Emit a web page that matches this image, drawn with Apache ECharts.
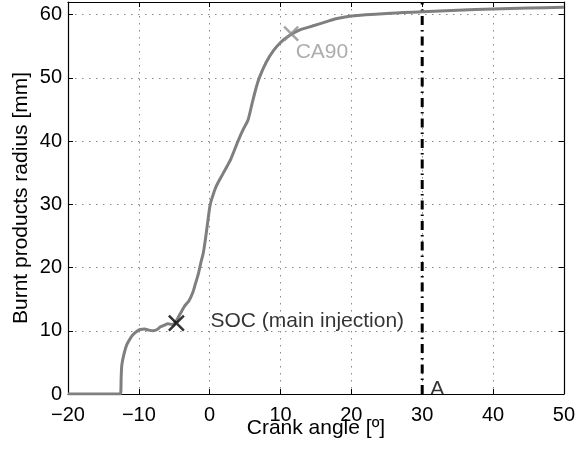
<!DOCTYPE html>
<html>
<head>
<meta charset="utf-8">
<script src="https://cdn.jsdelivr.net/npm/echarts@6/dist/echarts.min.js"></script>
<style>
  html, body { margin: 0; padding: 0; background: #fff; }
  #chart { width: 578px; height: 453px; }
</style>
</head>
<body>
<div id="chart"></div>
<script>
'use strict';

// ── Data ──────────────────────────────────────────────────────────────────────
const crankAngle = [-20, -12.6, -12.5, -12.4, -12.1, -11.7, -11.2, -10.8, -10.3, -9.8, -9.2, -8.6,
  -8.0, -7.4, -7.0, -6.4, -5.9, -5.3, -4.8, -4.2, -3.6, -2.9, -2.4, -2.0, -1.6, -1.2, -0.9,
  -0.6, -0.3, 0.0, 0.2, 0.9, 1.9, 3.0, 4.0, 4.8, 5.4, 6.0, 6.5, 7.0, 8.0, 9.0, 10.0, 11.0,
  12.0, 13.0, 14.5, 16.5, 18.0, 20.0, 25.0, 30.0, 35.0, 40.0, 45.0, 50.0];
const radius = [0, 0, 2.5, 4.6, 6.3, 7.8, 8.8, 9.4, 9.9, 10.2, 10.3, 10.1,
  10.0, 10.2, 10.6, 10.9, 11.1, 11.0, 11.4, 12.6, 13.8, 14.8, 16.0, 17.5, 19.0, 21.0, 22.3,
  24.5, 27.0, 29.5, 30.5, 32.8, 34.9, 37.2, 40.0, 42.0, 43.3, 46.0, 48.2, 50.0, 52.5, 54.3, 55.6, 56.5,
  57.2, 57.7, 58.2, 58.9, 59.4, 59.8, 60.2, 60.45, 60.7, 60.9, 61.05, 61.15];

const socPoint  = [-4.7, 11.2];
const ca90Point = [11.5, 57.0];
const lineA     = 30;
const xTicks    = { min: -20, max: 50, step: 10 };
const yTicks    = { min: 0, max: 62, step: 10 };

// ── Helpers ───────────────────────────────────────────────────────────────────
const FONT = 'Liberation Sans, Arial, Helvetica, sans-serif';
const crossPath = 'path://M0,0L10,10M10,0L0,10';
const minus = v => String(v).replace('-', '\u2212');

function boxAxis(extra) {
  return Object.assign({
    type: 'value',
    axisLine: { show: true, onZero: false, lineStyle: { color: '#000', width: 1.2 } },
    axisTick: { show: true, inside: true, length: 5, lineStyle: { color: '#000' } },
    axisLabel: { show: false },
    splitLine: { show: false },
  }, extra);
}

// ── Chart ─────────────────────────────────────────────────────────────────────
const chart = echarts.init(document.getElementById('chart'), null, { renderer: 'canvas' });

chart.setOption({
  backgroundColor: '#fff',
  animation: false,
  grid: { left: 68, right: 12, top: 2, bottom: 59, containLabel: false },
  xAxis: [
    boxAxis({
      position: 'bottom',
      min: xTicks.min, max: xTicks.max, interval: xTicks.step,
      name: 'Crank angle [º]', nameLocation: 'middle', nameGap: 24, nameMoveOverlap: false,
      nameTextStyle: { fontFamily: FONT, fontSize: 21, color: '#000' },
      axisLabel: { show: true, margin: 11, fontFamily: FONT, fontSize: 20, color: '#000', formatter: minus },
      splitLine: { show: true, lineStyle: { color: '#888', width: 1, type: [1.5, 5.5] } },
    }),
    boxAxis({ position: 'top', min: xTicks.min, max: xTicks.max, interval: xTicks.step }),
  ],
  yAxis: [
    boxAxis({
      position: 'left',
      min: yTicks.min, max: yTicks.max, interval: yTicks.step,
      name: 'Burnt products radius [mm]', nameLocation: 'middle', nameGap: 36, nameMoveOverlap: false,
      nameTextStyle: { fontFamily: FONT, fontSize: 21, color: '#000' },
      axisLabel: { show: true, margin: 6, fontFamily: FONT, fontSize: 20, color: '#000', showMaxLabel: false },
      splitLine: { show: true, lineStyle: { color: '#888', width: 1, type: [1.5, 5.5] } },
    }),
    boxAxis({ position: 'right', min: yTicks.min, max: yTicks.max, interval: yTicks.step }),
  ],
  series: [
    {
      type: 'line',
      data: crankAngle.map((x, i) => [x, radius[i]]),
      showSymbol: false,
      smooth: 0.25,
      lineStyle: { color: '#7f7f7f', width: 3 },
      z: 3,
    },
    {
      type: 'line',
      data: [[lineA, yTicks.min], [lineA, yTicks.max]],
      showSymbol: false,
      lineStyle: { color: '#000', width: 3, type: [9, 5, 1.5, 5] },
      z: 2,
    },
    {
      type: 'scatter',
      data: [socPoint],
      symbol: crossPath, symbolSize: 15,
      itemStyle: { color: 'none', borderColor: '#000', borderWidth: 2.5 },
      label: { show: true, formatter: 'SOC (main injection)', position: 'right', distance: 24,
               offset: [0, -2], fontFamily: FONT, fontSize: 21, color: '#000' },
      z: 4,
    },
    {
      type: 'scatter',
      data: [ca90Point],
      symbol: crossPath, symbolSize: 14,
      itemStyle: { color: 'none', borderColor: '#8f8f8f', borderWidth: 2.5 },
      label: { show: true, formatter: 'CA90', position: 'right', distance: 4,
               offset: [-9, 19], fontFamily: FONT, fontSize: 21, color: '#999' },
      z: 4,
    },
    {
      type: 'scatter',
      data: [[lineA, yTicks.min]],
      symbolSize: 0,
      label: { show: true, formatter: 'A', position: 'right', distance: 8,
               offset: [0, -5], fontFamily: FONT, fontSize: 21, color: '#000' },
      z: 4,
    },
  ],
});
</script>
</body>
</html>
